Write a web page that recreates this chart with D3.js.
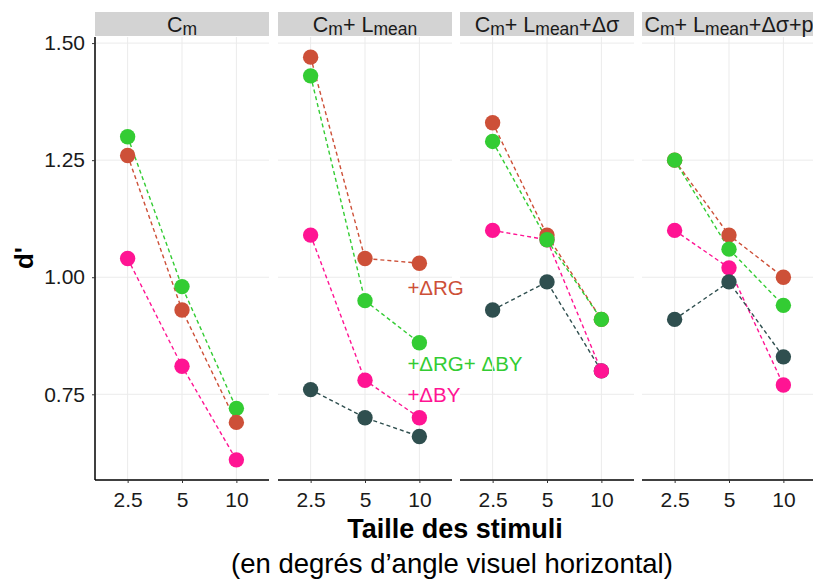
<!DOCTYPE html>
<html><head><meta charset="utf-8">
<script src="https://cdn.jsdelivr.net/npm/d3@7"></script>
<style>body{margin:0;background:#fff}svg{font-family:"Liberation Sans",Arial,Helvetica,sans-serif}</style>
</head><body><svg id="c" width="813" height="580"></svg>
<script>
const sizes = ["2.5","5","10"];
const yTicks = [0.75,1.00,1.25,1.50];
const panels = ["p1","p2","p3","p4"];
// strip labels: [text, kind] segments
const stripLabels = [
  [["C",""],["m","sub"]],
  [["C",""],["m","sub"],["+ L",""],["mean","sub"]],
  [["C",""],["m","sub"],["+ L",""],["mean","sub"],["+Δσ",""]],
  [["C",""],["m","sub"],["+ L",""],["mean","sub"],["+Δσ+p",""]]
];
const seriesNames = ["RG","RGBY","BY","none"];
const seriesColors = {RG:"#cd5038", RGBY:"#33cc33", BY:"#ff1493", none:"#2f4f4f"};
// values per panel
const valRG   = [[1.26,0.93,0.69],[1.47,1.04,1.03],[1.33,1.09,0.91],[1.25,1.09,1.00]];
const valRGBY = [[1.30,0.98,0.72],[1.43,0.95,0.86],[1.29,1.08,0.91],[1.25,1.06,0.94]];
const valBY   = [[1.04,0.81,0.61],[1.09,0.78,0.70],[1.10,1.08,0.80],[1.10,1.02,0.77]];
const valNone = [null,[0.76,0.70,0.66],[0.93,0.99,0.80],[0.91,0.99,0.83]];
// point draw order per panel
const drawOrder = [["RGBY","RG","BY"],["none","BY","RG","RGBY"],["none","BY","RG","RGBY"],["BY","none","RG","RGBY"]];
const labels = [["+ΔRG","RG",0.963],["+ΔRG+ ΔBY","RGBY",0.800],["+ΔBY","BY",0.733]];

const vals = {RG:valRG, RGBY:valRGBY, BY:valBY, none:valNone};
const svg = d3.select("#c");
const panelLeft = [95,278,460,642], panelW = 174;
const yTop = 37, yBot = 480;
const y = d3.scaleLinear().domain([0.567,1.513]).range([yBot, yTop]);

panels.forEach((p,i)=>{
  const x0 = panelLeft[i];
  const x = d3.scalePoint().domain(sizes).range([x0, x0+panelW]).padding(0.6);
  const g = svg.append("g");
  // grid
  yTicks.forEach(t=>g.append("line").attr("x1",x0).attr("x2",x0+panelW).attr("y1",y(t)).attr("y2",y(t)).attr("stroke","#ebebeb").attr("stroke-width",1));
  sizes.forEach(s=>g.append("line").attr("x1",x(s)).attr("x2",x(s)).attr("y1",yTop).attr("y2",yBot).attr("stroke","#ebebeb").attr("stroke-width",1));
  // strip
  g.append("rect").attr("x",x0).attr("y",12).attr("width",panelW).attr("height",24).attr("fill","#d3d3d3");
  const st = g.append("text").attr("x",x0+panelW/2).attr("y",31.5).attr("text-anchor","middle").attr("font-size",21.5).attr("fill","#1a1a1a");
  stripLabels[i].forEach(([t,k],j)=>{
    if(k==="sub") st.append("tspan").attr("font-size",17.5).attr("dy",3).text(t);
    else { const ts = st.append("tspan").text(t); if (j>0) ts.attr("dy",-3); }
  });
  // bottom axis
  const ax = g.append("g").attr("transform",`translate(0,${yBot})`).call(d3.axisBottom(x).tickSize(3).tickPadding(9));
  ax.select(".domain").attr("stroke","#000").attr("stroke-width",1.5).attr("d",`M${x0},0H${x0+panelW}`);
  ax.selectAll(".tick line").attr("stroke","#333");
  ax.selectAll("text").attr("font-size",21).attr("fill","#1a1a1a").attr("font-family","Liberation Sans, Arial, sans-serif");
  if(i===0){
    const ay = g.append("g").attr("transform",`translate(${x0},0)`).call(d3.axisLeft(y).tickValues(yTicks).tickFormat(d3.format(".2f")).tickSize(3).tickPadding(7));
    ay.select(".domain").attr("stroke","#000").attr("stroke-width",1.5).attr("d",`M0,${yTop}V${yBot}`);
    ay.selectAll(".tick line").attr("stroke","#333");
    ay.selectAll("text").attr("font-size",21).attr("fill","#1a1a1a").attr("font-family","Liberation Sans, Arial, sans-serif");
  }
  // lines
  const line = d3.line().x(d=>x(d[0])).y(d=>y(d[1]));
  seriesNames.forEach(s=>{
    const v = vals[s][i]; if(!v) return;
    g.append("path").attr("d",line(sizes.map((sz,j)=>[sz,v[j]]))).attr("fill","none").attr("stroke",seriesColors[s]).attr("stroke-width",1.4).attr("stroke-dasharray","4,3");
  });
  drawOrder[i].forEach(s=>{
    const v = vals[s][i]; if(!v) return;
    sizes.forEach((sz,j)=>g.append("circle").attr("cx",x(sz)).attr("cy",y(v[j])).attr("r",7.7).attr("fill",seriesColors[s]));
  });
  if(i===1){
    labels.forEach(([t,s,v])=>g.append("text").attr("x",x("10")-12).attr("y",y(v)).attr("font-size",20.5).attr("fill",seriesColors[s]).text(t));
  }
});
svg.append("text").attr("transform","translate(33,258) rotate(-90)").attr("text-anchor","middle").attr("font-size",26).attr("font-weight","bold").attr("fill","#000").text("d'");
svg.append("text").attr("x",455).attr("y",538).attr("text-anchor","middle").attr("font-size",27).attr("font-weight","bold").attr("fill","#000").text("Taille des stimuli");
svg.append("text").attr("x",452).attr("y",573).attr("text-anchor","middle").attr("font-size",27.5).attr("fill","#000").text("(en degrés d’angle visuel horizontal)");
</script></body></html>
